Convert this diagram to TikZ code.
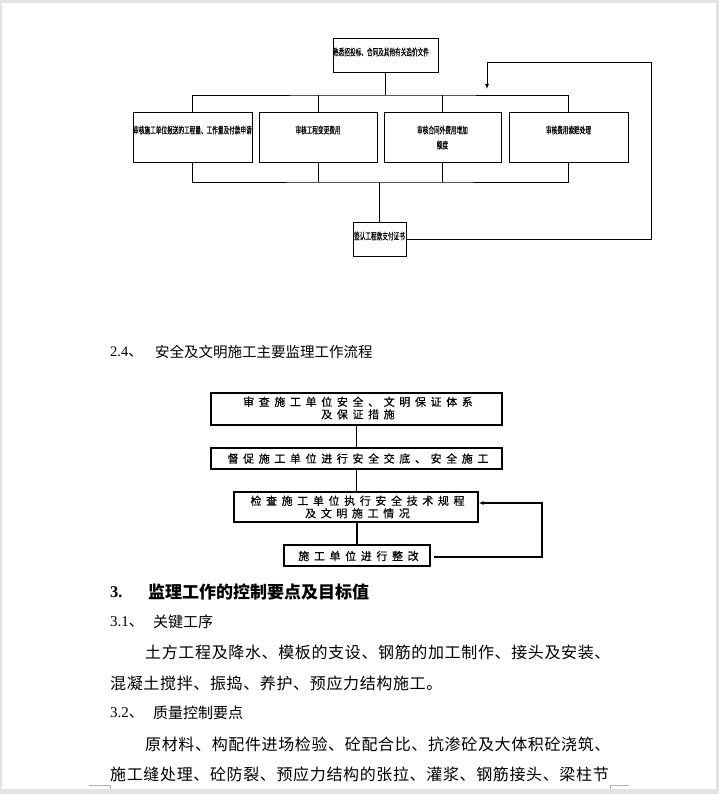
\documentclass[tikz,border=0pt]{standalone}
\usepackage{fontspec}
\usepackage{graphicx}
\setmainfont{Liberation Serif}
\newfontfamily\cjk{Noto Sans CJK SC}
\newfontfamily\cjkls[LetterSpace=42,FakeBold=0.3]{Noto Sans CJK SC}
\newfontfamily\cjkbody[LetterSpace=4]{Noto Sans CJK SC}
\newfontfamily\cjksm[FakeBold=0.2]{Noto Sans CJK SC}
\usetikzlibrary{arrows.meta}
\newcommand{\sqz}[1]{\scalebox{0.6}[1]{\fontsize{9.4}{11}\selectfont\cjksm #1}}
\begin{document}
\begin{tikzpicture}[x=1pt,y=-1pt,
  smallbox/.style={draw=black,line width=0.9pt,minimum height=50pt,inner sep=0pt},
  bigbox/.style={draw=black,line width=1.3pt,inner sep=0pt},
  conn/.style={draw=black,line width=0.9pt},
  conn2/.style={draw=black,line width=1.3pt},
  tip/.style={-{Latex[length=5pt,width=4pt]}},
  lbl/.style={inner sep=0pt,align=center},
  body/.style={inner sep=0pt,anchor=west,font=\fontsize{16}{18}\selectfont\cjkbody}]
\useasboundingbox (0,0) rectangle (719,794);
\fill[gray!22] (0,0) rectangle (719,794);
\fill[white] (2,3) rectangle (716,789);
% corner marks
\draw[gray!60,line width=0.6pt] (89,785) -- (110,785) -- (110,789);
\draw[gray!60,line width=0.6pt] (629,785) -- (610,785) -- (610,789);

% ===== chart 1 =====
\node[smallbox,minimum width=105pt,minimum height=34pt] (top) at (385.5,55) {};
\node[lbl] (toptx) at (381,52) {\sqz{熟悉招投标、合同及其他有关造价文件}};
\node[smallbox,minimum width=119pt] (b1) at (192.5,137) {};
\node[smallbox,minimum width=118pt] (b2) at (318,137) {};
\node[smallbox,minimum width=117pt] (b3) at (442.5,137) {};
\node[smallbox,minimum width=119pt] (b4) at (568.5,137) {};
\node[lbl] (b1tx) at (192.5,130) {\sqz{审核施工单位报送的工程量、工作量及付款申请}};
\node[lbl] (b2tx) at (318,130) {\sqz{审核工程变更费用}};
\node[lbl] (b3tx) at (442.5,137.5) {\sqz{审核合同外费用增加}\\[3pt]\sqz{额度}};
\node[lbl] (b4tx) at (568.5,130) {\sqz{审核费用索赔处理}};
\node[smallbox,minimum width=53pt,minimum height=34pt] (pay) at (379.5,239) {};
\node[lbl] (paytx) at (379.5,236) {\sqz{签认工程款支付证书}};
\coordinate (busT) at (385.5,95);
\coordinate (busB) at (379.5,182);
\draw[conn] (top.south) -- (top.south |- busT);
\draw[conn] (b1.north) |- (busT) -| (b4.north);
\draw[conn] (b2.north) -- (b2.north |- busT);
\draw[conn] (b3.north) -- (b3.north |- busT);
\draw[conn] (b1.south) |- (busB) -| (b4.south);
\draw[conn] (b2.south) -- (b2.south |- busB);
\draw[conn] (b3.south) -- (b3.south |- busB);
\draw[conn] (busB) -- (pay.north);
\coordinate (fb1) at (651,239);
\coordinate (fb2) at (651,62);
\coordinate (fb3) at (487,62);
\coordinate (fb4) at (487,89);
\draw[conn,tip] (pay.east) -- (fb1) -- (fb2) -- (fb3) -- (fb4);

% ===== heading 2.4 =====
\node[inner sep=0pt,anchor=west,font=\fontsize{14.5}{16}\selectfont] (h24) at (110,352) {2.4{\cjk 、}};
\node[inner sep=0pt,anchor=west,font=\fontsize{14.5}{16}\selectfont\cjk] (h24t) at (155,352) {安全及文明施工主要监理工作流程};

% ===== chart 2 =====
\node[bigbox,minimum width=291pt,minimum height=32pt] (sA) at (356.5,409) {};
\node[lbl,font=\fontsize{11}{12.5}\selectfont\cjkls] (sAt) at (358,408) {审查施工单位安全、文明保证体系\\及保证措施};
\node[bigbox,minimum width=291pt,minimum height=21pt] (sB) at (356.5,458.5) {};
\node[lbl,font=\fontsize{11}{12.5}\selectfont\cjkls] (sBt) at (358,458.5) {督促施工单位进行安全交底、安全施工};
\node[bigbox,minimum width=244pt,minimum height=30pt] (sC) at (356,507) {};
\node[lbl,font=\fontsize{11}{12.5}\selectfont\cjkls] (sCt) at (357.5,507) {检查施工单位执行安全技术规程\\及文明施工情况};
\node[bigbox,minimum width=146pt,minimum height=21pt] (sD) at (357,555.5) {};
\node[lbl,font=\fontsize{11}{12.5}\selectfont\cjkls] (sDt) at (358.5,556) {施工单位进行整改};
\draw[conn2] (sA.south) -- (sA.south |- sB.north);
\draw[conn2] (sB.south) -- (sB.south |- sC.north);
\draw[conn2] (sC.south -| sD.north) -- (sD.north);
\coordinate (g1) at (542,557);
\coordinate (g2) at (542,503);
\draw[conn2,tip] ([xshift=3pt]sD.east |- g1) -- (g1) -- (g2) -- (sC.east |- g2);

% ===== section 3 =====
\node[inner sep=0pt,anchor=west,font=\fontsize{16.5}{18}\selectfont\bfseries] (h3) at (110,592) {3.};
\node[inner sep=0pt,anchor=west,font=\fontsize{17}{19}\selectfont\cjk\bfseries] (h3t) at (148,592) {监理工作的控制要点及目标值};
\node[inner sep=0pt,anchor=west,font=\fontsize{15}{17}\selectfont] (h31) at (110,622) {3.1{\cjk 、}};
\node[inner sep=0pt,anchor=west,font=\fontsize{15}{17}\selectfont\cjk] (h31t) at (153,622) {关键工序};
\node[body] (l1) at (145,652) {土方工程及降水、模板的支设、钢筋的加工制作、接头及安装、};
\node[body] (l2) at (110,683) {混凝土搅拌、振捣、养护、预应力结构施工。};
\node[inner sep=0pt,anchor=west,font=\fontsize{15}{17}\selectfont] (h32) at (110,713) {3.2{\cjk 、}};
\node[inner sep=0pt,anchor=west,font=\fontsize{15}{17}\selectfont\cjk] (h32t) at (153,713) {质量控制要点};
\node[body] (l3) at (145,744) {原材料、构配件进场检验、砼配合比、抗渗砼及大体积砼浇筑、};
\node[body] (l4) at (110,774) {施工缝处理、砼防裂、预应力结构的张拉、灌浆、钢筋接头、梁柱节};
\end{tikzpicture}
\end{document}
